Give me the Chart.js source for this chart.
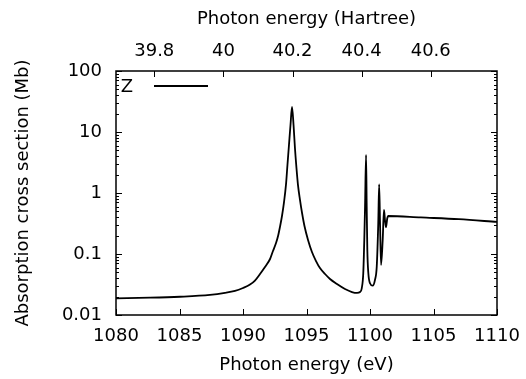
<!DOCTYPE html>
<html><head><meta charset="utf-8">
<script src="https://cdn.jsdelivr.net/npm/chart.js@4/dist/chart.umd.min.js"></script>
<style>html,body{margin:0;padding:0;background:#fff;} #wrap{width:526px;height:379px;}</style>
</head><body><div id="wrap"><canvas id="c" width="526" height="379"></canvas></div>
<script>
// ---- data ----
const energyEV = [1080.0,1082.68,1085.04,1087.40,1088.58,1089.37,1090.0,1090.55,1090.94,1091.34,1091.73,1092.13,1092.36,1092.60,1092.76,1092.91,1093.07,1093.23,1093.39,1093.50,1093.62,1093.74,1093.86,1093.98,1094.09,1094.21,1094.33,1094.49,1094.65,1094.84,1095.12,1095.43,1095.75,1096.06,1096.46,1096.85,1097.40,1098.03,1098.58,1098.98,1099.21,1099.35,1099.47,1099.55,1099.61,1099.69,1099.74,1099.79,1099.87,1100.00,1100.21,1100.39,1100.53,1100.65,1100.72,1100.79,1100.87,1101.00,1101.10,1101.18,1101.26,1101.36,1101.43,1104.0,1107.0,1110.0];
const crossSectionMb = [0.0188,0.0192,0.0199,0.0213,0.0230,0.0248,0.0277,0.0315,0.0366,0.0470,0.0612,0.0828,0.112,0.151,0.197,0.277,0.420,0.711,1.41,2.88,6.12,13.0,25.7,13.0,5.47,2.57,1.35,0.767,0.470,0.288,0.170,0.108,0.0767,0.0589,0.0470,0.0389,0.0322,0.0267,0.0238,0.0230,0.0238,0.0274,0.0483,0.170,0.596,4.20,0.596,0.116,0.0483,0.0331,0.0302,0.0375,0.0619,0.318,1.39,0.322,0.0661,0.170,0.526,0.360,0.274,0.385,0.420,0.397,0.372,0.335];
const seriesLabel = 'Z';
const xTicksEV = [1080,1085,1090,1095,1100,1105,1110];
const yTicksMb = [0.01,0.1,1,10,100];
const yTickLabels = ['0.01','0.1','1','10','100'];
const hartreeTicks = [39.8,40,40.2,40.4,40.6];
const hartreeTickLabels = ['39.8','40','40.2','40.4','40.6'];
const EV_PER_HARTREE = 27.2114;
const xMin = 1080, xMax = 1110, yMin = 0.01, yMax = 100;

const FONT = {family: 'DejaVu Sans', size: 18};

const points = energyEV.map((e, i) => ({x: e, y: crossSectionMb[i]}));

const noPad = s => { s.paddingLeft = 0; s.paddingRight = 0; s.paddingTop = 0; s.paddingBottom = 0; };

const frameTicks = {
  id: 'frameTicks',
  afterDatasetsDraw(chart) {
    const {ctx, chartArea: a, scales} = chart;
    ctx.save();
    ctx.strokeStyle = '#000';
    ctx.lineWidth = 1;
    const MAJ = 6, MIN = 3;
    const ys = scales.y;
    const drawY = (v, len) => {
      const p = Math.round(ys.getPixelForValue(v)) + 0.5;
      ctx.beginPath();
      ctx.moveTo(a.left, p); ctx.lineTo(a.left + len, p);
      ctx.moveTo(a.right, p); ctx.lineTo(a.right - len, p);
      ctx.stroke();
    };
    yTicksMb.forEach((d, i) => {
      drawY(d, MAJ);
      if (i < yTicksMb.length - 1) for (let m = 2; m <= 9; m++) drawY(d * m, MIN);
    });
    const xs = scales.x;
    xTicksEV.forEach(v => {
      const p = Math.round(xs.getPixelForValue(v)) + 0.5;
      ctx.beginPath(); ctx.moveTo(p, a.bottom); ctx.lineTo(p, a.bottom - MAJ); ctx.stroke();
    });
    const x2 = scales.x2;
    hartreeTicks.forEach(v => {
      const p = Math.round(x2.getPixelForValue(v)) + 0.5;
      ctx.beginPath(); ctx.moveTo(p, a.top); ctx.lineTo(p, a.top + MAJ); ctx.stroke();
    });
    ctx.lineWidth = 1.5;
    ctx.strokeRect(a.left, a.top, a.right - a.left, a.bottom - a.top);
    const ds = chart.data.datasets[0];
    ctx.fillStyle = '#000';
    ctx.font = '18px "DejaVu Sans"';
    ctx.textAlign = 'right';
    ctx.textBaseline = 'middle';
    ctx.fillText(ds.label, a.left + 17, a.top + 16);
    ctx.strokeStyle = ds.borderColor;
    ctx.lineWidth = ds.borderWidth;
    ctx.beginPath(); ctx.moveTo(a.left + 38, a.top + 15); ctx.lineTo(a.left + 92, a.top + 15); ctx.stroke();
    ctx.restore();
  }
};

new Chart(document.getElementById('c'), {
  type: 'line',
  data: {datasets: [{label: seriesLabel, data: points, borderColor: '#000', borderWidth: 1.8, pointRadius: 0, tension: 0.15, cubicInterpolationMode: 'monotone', fill: false, xAxisID: 'x', yAxisID: 'y'}]},
  options: {
    responsive: false, animation: false, devicePixelRatio: 1,
    layout: {padding: 0},
    plugins: {legend: {display: false}, tooltip: {enabled: false}},
    scales: {
      x: {
        type: 'linear', position: 'bottom', min: xMin, max: xMax,
        afterBuildTicks: s => { s.ticks = xTicksEV.map(v => ({value: v})); },
        afterFit: s => { s.height = 64; noPad(s); },
        grid: {display: false, drawTicks: false}, border: {display: false},
        ticks: {autoSkip: false, maxRotation: 0, padding: 11, color: '#000', font: FONT, callback: v => String(v)},
        title: {display: true, text: 'Photon energy (eV)', color: '#000', font: FONT, padding: {top: 0, bottom: 3}}
      },
      x2: {
        type: 'linear', position: 'top', min: xMin / EV_PER_HARTREE, max: xMax / EV_PER_HARTREE,
        afterBuildTicks: s => { s.ticks = hartreeTicks.map(v => ({value: v})); },
        afterFit: s => { s.height = 71; noPad(s); },
        grid: {display: false, drawTicks: false}, border: {display: false},
        ticks: {autoSkip: false, maxRotation: 0, padding: 9, color: '#000', font: FONT, callback: (v, i) => hartreeTickLabels[i]},
        title: {display: true, text: 'Photon energy (Hartree)', color: '#000', font: FONT, padding: {top: 9, bottom: 0}}
      },
      y: {
        type: 'logarithmic', position: 'left', min: yMin, max: yMax,
        afterBuildTicks: s => { s.ticks = yTicksMb.map(v => ({value: v})); },
        afterFit: s => { s.width = 116; noPad(s); },
        grid: {display: false, drawTicks: false}, border: {display: false},
        ticks: {autoSkip: false, padding: 14, color: '#000', font: FONT, callback: (v, i) => yTickLabels[i]},
        title: {display: true, text: 'Absorption cross section (Mb)', color: '#000', font: FONT, padding: {top: 13, bottom: 0}}
      },
      y2: {
        type: 'logarithmic', position: 'right', min: yMin, max: yMax,
        afterFit: s => { s.width = 29; noPad(s); },
        grid: {display: false, drawTicks: false}, border: {display: false},
        ticks: {display: false}
      }
    }
  },
  plugins: [frameTicks]
});
</script></body></html>
